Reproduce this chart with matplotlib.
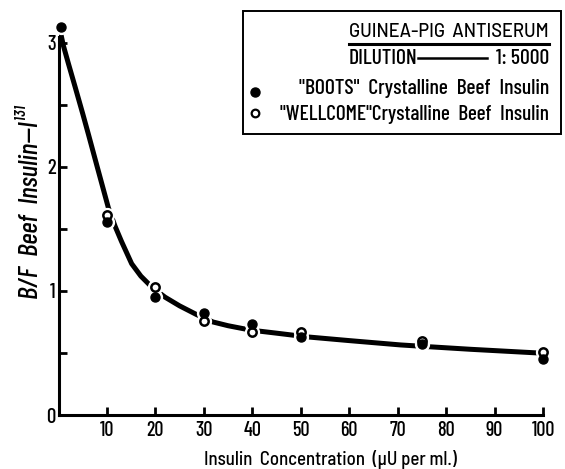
import matplotlib
matplotlib.use("Agg")
import matplotlib.pyplot as plt
from matplotlib.patches import Rectangle
from matplotlib.lines import Line2D
from matplotlib import font_manager
from matplotlib.font_manager import FontProperties
import os

# ---- data ----
x_boots = [0.5, 10, 20, 30, 40, 50, 75, 100]
y_boots = [3.13, 1.56, 0.95, 0.82, 0.73, 0.63, 0.57, 0.45]
x_wellcome = [10, 20, 30, 40, 50, 75, 100]
y_wellcome = [1.61, 1.03, 0.76, 0.67, 0.67, 0.60, 0.51]
curve_x = [0.5, 1, 2, 3.4, 5, 6.2, 8, 10.3, 11.7, 13, 15.1, 17, 19.3, 22, 25,
           28.5, 31.9, 35, 39.6, 45, 51.3, 60, 70.6, 76.7, 85, 99.1]
curve_y = [3.07, 2.98, 2.84, 2.65, 2.43, 2.26, 2.0, 1.67, 1.52, 1.40, 1.22, 1.12,
           1.03, 0.95, 0.88, 0.81, 0.75, 0.72, 0.685, 0.66, 0.63, 0.60, 0.565,
           0.55, 0.53, 0.50]
x_ticks = [10, 20, 30, 40, 50, 60, 70, 80, 90, 100]
y_ticks = [0, 1, 2, 3]
y_minor = [0.5, 1.5, 2.5]

# ---- fonts: rounded sans to mimic the lettering ----
paths = {os.path.basename(f.fname): f.fname for f in font_manager.fontManager.ttflist}

def pick(names, **fallback):
    for n in names:
        if n in paths:
            return FontProperties(fname=paths[n])
    return FontProperties(family='DejaVu Sans', **fallback)

FPC = pick(['BarlowCondensed-Medium.ttf', 'DejaVuSansCondensed.ttf'], stretch='condensed')
FPS = pick(['BarlowSemiCondensed-Medium.ttf', 'DejaVuSansCondensed.ttf'], stretch='condensed')
FP = pick(['Barlow-Medium.ttf', 'DejaVuSans.ttf'])
FPI = pick(['BarlowCondensed-MediumItalic.ttf', 'BarlowSemiCondensed-MediumItalic.ttf',
            'DejaVuSans-Oblique.ttf'], style='italic')

W, H = 565, 469
fig = plt.figure(figsize=(W / 100, H / 100), dpi=100)

def fx(px):
    return px / W

def fy(py):
    return 1 - py / H

def fp(base, size):
    p = base.copy()
    p.set_size(size)
    return p

fitted = []

def ftext(x, y, s, base, target, ha='left', va='center', rot=0):
    t = fig.text(fx(x), fy(y), s, ha=ha, va=va, rotation=rot, fontproperties=fp(base, 12))
    fitted.append((t, target, rot))
    return t

x0_px, x100_px = 58.5, 543.0
y0_px, ytop_px = 415.0, 415.0 - 3.2 * 124
ax = fig.add_axes([fx(x0_px), fy(y0_px), fx(x100_px) - fx(x0_px), (y0_px - ytop_px) / H])
ax.set_xlim(0, 100)
ax.set_ylim(0, 3.2)

for s in ['top', 'right']:
    ax.spines[s].set_visible(False)
ax.spines['left'].set_linewidth(2.2)
ax.spines['bottom'].set_linewidth(2.2)
ax.spines['left'].set_bounds(0, 3.05)
ax.spines['bottom'].set_bounds(0, 100)

ax.set_xticks(x_ticks)
ax.set_xticklabels([str(v) for v in x_ticks], fontproperties=fp(FPC, 14.5))
ax.set_yticks(y_ticks)
ax.set_yticklabels([str(v) for v in y_ticks], fontproperties=fp(FPC, 15))
ax.set_yticks(y_minor, minor=True)
ax.tick_params(axis='both', which='both', direction='in', width=2, length=6)
ax.tick_params(axis='x', pad=4)
ax.tick_params(axis='y', pad=2)

# curve
ax.plot(curve_x, curve_y, color='black', lw=3.6, solid_capstyle='round', zorder=2)

# white halos for gaps around markers
ax.plot(x_boots, y_boots, 'o', ms=10, color='white', mec='white', zorder=3, clip_on=False)
ax.plot(x_wellcome, y_wellcome, 'o', ms=10, color='white', mec='white', zorder=3, clip_on=False)
ax.plot(x_boots, y_boots, 'o', ms=6.5, color='black', mec='black', zorder=5, clip_on=False)
ax.plot(x_wellcome, y_wellcome, 'o', ms=6, mfc='white', mec='black', mew=1.8, zorder=4, clip_on=False)

# axis titles
ftext(330, 459, 'Insulin  Concentration  (μU per ml.)', FPS, 254, ha='center')
ftext(31, 203, 'B/F  Beef  Insulin—I¹³¹', FPI, 193, ha='center', rot=90)

# legend box
fig.add_artist(Rectangle((fx(243), fy(134)), fx(561) - fx(243), fy(11) - fy(134),
                         transform=fig.transFigure, fill=False, ec='black', lw=1.4))
ftext(549, 32, 'GUINEA-PIG  ANTISERUM', FP, 200, ha='right')
fig.add_artist(Line2D([fx(349), fx(549)], [fy(43.5), fy(43.5)], transform=fig.transFigure,
                      color='black', lw=2.2))
fig.text(fx(349), fy(58), 'DILUTION', ha='left', va='center', fontproperties=fp(FPC, 15.5))
fig.add_artist(Line2D([fx(418), fx(487)], [fy(58), fy(58)], transform=fig.transFigure,
                      color='black', lw=1.8))
fig.text(fx(549), fy(58), '1: 5000', ha='right', va='center', fontproperties=fp(FPC, 15.5))
ftext(549, 89, '"BOOTS"  Crystalline  Beef  Insulin', FPC, 251, ha='right')
ftext(549, 115, '"WELLCOME"Crystalline  Beef  Insulin', FPC, 269, ha='right')
fig.add_artist(Line2D([fx(255)], [fy(92)], transform=fig.transFigure, marker='o', ms=6.5,
                      color='black', ls='none'))
fig.add_artist(Line2D([fx(255)], [fy(113)], transform=fig.transFigure, marker='o', ms=5.5,
                      mfc='white', mec='black', mew=1.6, ls='none'))

# fit text sizes to the measured extents of the reference
fig.canvas.draw()
r = fig.canvas.get_renderer()
for t, target, rot in fitted:
    bb = t.get_window_extent(r)
    cur = bb.height if rot == 90 else bb.width
    t.set_fontsize(t.get_fontsize() * target / cur)

fig.savefig('out.png', dpi=100)
